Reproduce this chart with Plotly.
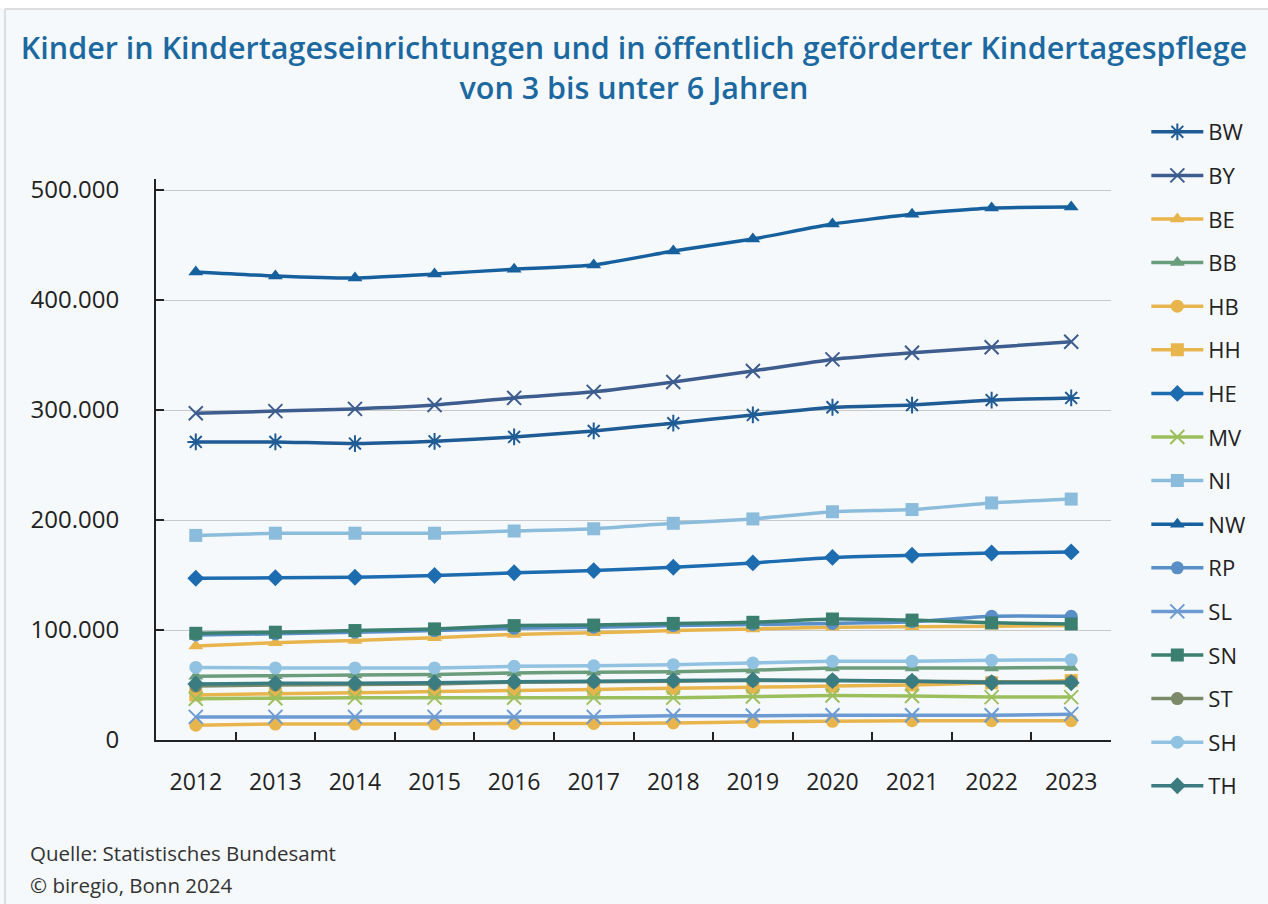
import plotly.graph_objects as go

years = ["2012", "2013", "2014", "2015", "2016", "2017", "2018", "2019", "2020", "2021", "2022", "2023"]

BW = [271000, 271000, 269500, 271500, 275500, 281000, 288000, 295500, 302500, 304500, 309000, 311000]
BY = [297000, 299000, 301000, 304500, 311000, 316500, 325500, 335500, 346000, 352000, 357000, 362000]
BE = [85500, 88500, 90500, 93000, 96000, 97500, 99500, 101000, 102500, 103000, 103500, 104000]
BB = [58000, 58500, 59000, 59500, 61000, 61500, 62000, 63500, 65500, 65500, 65500, 66000]
HB = [13500, 14500, 14500, 14500, 15000, 15000, 15500, 16500, 17000, 17500, 17500, 17500]
HH = [41000, 42000, 43000, 44000, 45000, 46000, 47000, 48000, 49000, 50000, 52000, 54000]
HE = [147000, 147500, 148000, 149500, 152000, 154000, 157000, 161000, 166000, 168000, 170000, 171000]
MV = [37500, 38000, 38500, 38500, 38500, 38500, 38500, 39500, 40500, 40000, 39000, 39000]
NI = [186000, 188000, 188000, 188000, 190000, 192000, 197000, 201000, 207500, 209500, 215500, 219000]
NW = [425500, 421800, 420000, 423600, 428000, 431800, 444500, 455500, 469000, 478000, 483600, 484500]
RP = [95500, 96500, 98000, 99500, 101500, 102500, 104000, 105000, 106000, 107500, 112500, 112500]
SL = [21000, 21000, 21000, 21000, 21000, 21000, 22000, 22000, 22500, 22500, 22500, 23500]
SN = [97000, 98000, 99500, 101000, 104000, 104500, 106000, 107000, 110000, 109000, 106500, 105500]
ST = [49000, 50000, 50500, 51000, 52500, 53000, 53500, 54000, 54000, 53500, 53000, 53000]
SH = [66000, 65500, 65500, 65500, 67000, 67500, 68500, 70000, 71500, 71500, 72500, 73000]
TH = [51000, 51500, 51500, 52000, 53000, 53500, 54000, 54500, 54000, 53500, 52000, 52000]

# (name, values, colour, marker symbol)
series = [
    ("BW", BW, "#1f5b94", "asterisk-open"),
    ("BY", BY, "#3d5d8f", "x-thin-open"),
    ("BE", BE, "#e8b54d", "triangle-up"),
    ("BB", BB, "#6b9c7c", "triangle-up"),
    ("HB", HB, "#e8b54d", "circle"),
    ("HH", HH, "#e8b54d", "square"),
    ("HE", HE, "#1e6cb0", "diamond"),
    ("MV", MV, "#9cbf5e", "x-thin-open"),
    ("NI", NI, "#8cbcdc", "square"),
    ("NW", NW, "#17609e", "triangle-up"),
    ("RP", RP, "#5a8ec6", "circle"),
    ("SL", SL, "#6b9bd2", "x-thin-open"),
    ("SN", SN, "#3b7f70", "square"),
    ("ST", ST, "#7b8a69", "circle"),
    ("SH", SH, "#91c2e2", "circle"),
    ("TH", TH, "#3a7c80", "diamond"),
]

FONT = "Open Sans"

fig = go.Figure()
for name, vals, col, sym in series:
    open_sym = sym.endswith("open")
    fig.add_trace(go.Scatter(
        x=years, y=vals, name=name, legendgroup=name,
        mode="lines+markers",
        line=dict(color=col, width=3.5, shape="spline", smoothing=0.5),
        marker=dict(symbol=sym, size=14 if open_sym else 13, color=col,
                    line=dict(color=col, width=2 if open_sym else 0)),
    ))

fig.update_layout(
    width=1268, height=904,
    paper_bgcolor="#f6f9fc", plot_bgcolor="#f6f9fc",
    separators=",.",
    margin=dict(l=156, r=157, t=179, b=164),
    font=dict(family=FONT, size=22, color="#222222"),
    title=dict(
        text="Kinder in Kindertageseinrichtungen und in öffentlich geförderter Kindertagespflege<br>von 3 bis unter 6 Jahren",
        x=0.5, xref="container", xanchor="center",
        y=1 - 59 / 904, yref="container", yanchor="middle",
        font=dict(family=FONT, size=30.5, color="#1b69a0", weight=600),
    ),
    showlegend=True,
    legend=dict(
        x=1.037, xanchor="left", y=(740 - 111) / 561, yanchor="top",
        font=dict(family=FONT, size=22, color="#222222"),
        bgcolor="rgba(0,0,0,0)", tracegroupgap=12, itemwidth=52,
        traceorder="grouped", maxheight=880,
    ),
    xaxis=dict(
        type="category", range=[-0.5, 11.5], showgrid=False, showline=True,
        linecolor="#222222", linewidth=2,
        ticks="inside", tickson="boundaries", ticklen=8, tickwidth=2, tickcolor="#222222",
        ticklabelstandoff=20, tickfont=dict(size=23, color="#222222"),
        zeroline=False, fixedrange=True,
    ),
    yaxis=dict(
        range=[0, 510000], tickvals=[0, 100000, 200000, 300000, 400000, 500000],
        tickformat=",d", showgrid=True, gridcolor="#c9c9c9", gridwidth=1,
        showline=True, linecolor="#222222", linewidth=2,
        ticks="inside", ticklen=8, tickwidth=2, tickcolor="#222222",
        ticklabelstandoff=30, tickfont=dict(size=24, color="#222222"),
        zeroline=False, fixedrange=True,
    ),
    annotations=[
        dict(text="Quelle: Statistisches Bundesamt", xref="paper", yref="paper",
             x=(28 - 156) / 955, y=(740 - 853) / 561, xanchor="left", yanchor="middle",
             showarrow=False, font=dict(family=FONT, size=20.5, color="#333333")),
        dict(text="© biregio, Bonn 2024", xref="paper", yref="paper",
             x=(28 - 156) / 955, y=(740 - 885) / 561, xanchor="left", yanchor="middle",
             showarrow=False, font=dict(family=FONT, size=20.5, color="#333333")),
    ],
    shapes=[
        dict(type="rect", xref="paper", yref="paper",
             x0=-156 / 955, x1=(1268 - 156) / 955,
             y0=(740 - 8) / 561, y1=(740 + 10) / 561 + 1.5,
             fillcolor="#ffffff", line=dict(width=0), layer="below"),
        dict(type="line", xref="paper", yref="paper",
             x0=-151 / 955, x1=(1268 - 156) / 955,
             y0=(740 - 9) / 561, y1=(740 - 9) / 561,
             line=dict(color="#dddddd", width=2)),
        dict(type="line", xref="paper", yref="paper",
             x0=-151 / 955, x1=-151 / 955,
             y0=(740 - 9) / 561, y1=(740 - 904) / 561,
             line=dict(color="#dddddd", width=2)),
    ],
)

fig.write_html("out.html")
